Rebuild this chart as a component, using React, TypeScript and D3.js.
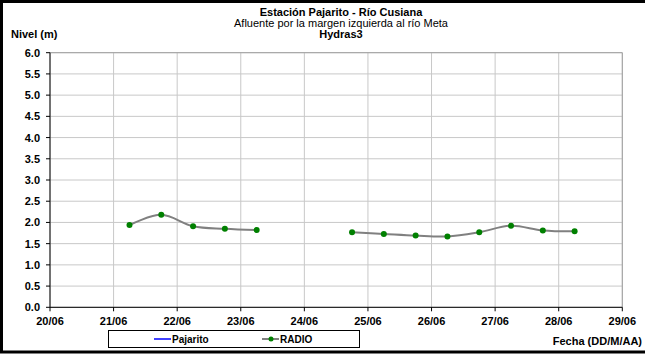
import React from "react";
import * as d3 from "d3";

const TITLE = "Estación Pajarito - Río Cusiana";
const SUBTITLE = "Afluente por la margen izquierda al río Meta";
const SUBTITLE2 = "Hydras3";
const Y_LABEL = "Nivel (m)";
const X_LABEL = "Fecha (DD/M/AA)";

const xTickDates = ["2009-06-20", "2009-06-21", "2009-06-22", "2009-06-23", "2009-06-24", "2009-06-25", "2009-06-26", "2009-06-27", "2009-06-28", "2009-06-29"];
const yTicks = [0, 0.5, 1, 1.5, 2, 2.5, 3, 3.5, 4, 4.5, 5, 5.5, 6];

const radioTimes = [
  "2009-06-21T06:00", "2009-06-21T18:00", "2009-06-22T06:00", "2009-06-22T18:00", "2009-06-23T06:00",
  "2009-06-23T18:00", "2009-06-24T06:00",
  "2009-06-24T18:00", "2009-06-25T06:00", "2009-06-25T18:00", "2009-06-26T06:00", "2009-06-26T18:00",
  "2009-06-27T06:00", "2009-06-27T18:00", "2009-06-28T06:00",
];
const radioValues: (number | null)[] = [
  1.94, 2.18, 1.91, 1.85, 1.82,
  null, null,
  1.77, 1.73, 1.69, 1.67, 1.77,
  1.92, 1.81, 1.79,
];
const pajaritoTimes: string[] = [];
const pajaritoValues: number[] = [];

const parseDay = d3.timeParse("%Y-%m-%d");
const parseTime = d3.timeParse("%Y-%m-%dT%H:%M");
const fmt = d3.timeFormat("%d/%m");

export default function App() {
  const W = 645, H = 355;
  const left = 50, right = 622.3, top = 52.7, bottom = 307.3;
  const x = d3.scaleTime()
    .domain([parseDay(xTickDates[0])!, parseDay(xTickDates[xTickDates.length - 1])!])
    .range([left, right]);
  const y = d3.scaleLinear().domain([0, 6]).range([bottom, top]);

  const radio = radioTimes.map((t, i) => ({ t: parseTime(t)!, v: radioValues[i] }));
  const pajarito = pajaritoTimes.map((t, i) => ({ t: parseTime(t)!, v: pajaritoValues[i] }));

  const line = d3.line<{ t: Date; v: number | null }>()
    .defined(d => d.v != null)
    .x(d => x(d.t))
    .y(d => y(d.v as number))
    .curve(d3.curveCatmullRom.alpha(0));

  const font = "'Liberation Sans', Arial, sans-serif";
  const grid = "#c8c8c8";

  return (
    <svg width={W} height={H} style={{ position: "absolute", left: 0, top: 0, fontFamily: font }}>
      <rect x={0} y={0} width={W} height={H} fill="#fff" />
      {/* gridlines */}
      {yTicks.map(v => (
        <line key={"h" + v} x1={left} x2={right} y1={y(v)} y2={y(v)} stroke={grid} strokeWidth={1} />
      ))}
      {xTickDates.map(d => {
        const xx = x(parseDay(d)!);
        return <line key={"v" + d} x1={xx} x2={xx} y1={top} y2={bottom} stroke={grid} strokeWidth={1} />;
      })}
      <line x1={right} x2={right} y1={top} y2={bottom} stroke="#a0a0a0" strokeWidth={1} />
      <line x1={left} x2={right} y1={top} y2={top} stroke="#a0a0a0" strokeWidth={1} />
      {/* axes */}
      <line x1={left} x2={left} y1={top} y2={bottom} stroke="#000" strokeWidth={1} />
      <line x1={left} x2={right} y1={bottom} y2={bottom} stroke="#000" strokeWidth={1} />
      {yTicks.map(v => (
        <g key={"yt" + v}>
          <line x1={left - 4} x2={left} y1={y(v)} y2={y(v)} stroke="#000" />
          <text x={40} y={y(v) + 4} textAnchor="end" fontSize={11} fontWeight="bold">{v.toFixed(1)}</text>
        </g>
      ))}
      {xTickDates.map(d => {
        const xx = x(parseDay(d)!);
        return (
          <g key={"xt" + d}>
            <line x1={xx} x2={xx} y1={bottom} y2={bottom + 4} stroke="#000" />
            <text x={xx} y={325} textAnchor="middle" fontSize={11} fontWeight="bold">{fmt(parseDay(d)!)}</text>
          </g>
        );
      })}
      {/* series */}
      {pajarito.length > 0 && <path d={line(pajarito) || ""} fill="none" stroke="#0000ff" strokeWidth={1.5} />}
      <path d={line(radio) || ""} fill="none" stroke="#808080" strokeWidth={2} />
      {radio.filter(d => d.v != null).map((d, i) => (
        <circle key={"p" + i} cx={x(d.t)} cy={y(d.v as number)} r={3} fill="#008000" />
      ))}
      {/* titles */}
      <text x={341} y={16} textAnchor="middle" fontSize={11} fontWeight="bold">{TITLE}</text>
      <text x={341} y={27} textAnchor="middle" fontSize={11}>{SUBTITLE}</text>
      <text x={341} y={38} textAnchor="middle" fontSize={11} fontWeight="bold">{SUBTITLE2}</text>
      <text x={11} y={38} fontSize={11} fontWeight="bold">{Y_LABEL}</text>
      <text x={642} y={345} textAnchor="end" fontSize={11} fontWeight="bold">{X_LABEL}</text>
      {/* legend */}
      <rect x={108.5} y={330.5} width={251} height={17} fill="#fff" stroke="#000" strokeWidth={1} />
      <line x1={154} x2={171} y1={339} y2={339} stroke="#0000ff" strokeWidth={1.5} />
      <text x={172} y={342.5} fontSize={10} fontWeight="bold">Pajarito</text>
      <line x1={262} x2={279} y1={339} y2={339} stroke="#808080" strokeWidth={2} />
      <circle cx={271} cy={339} r={2.5} fill="#008000" />
      <text x={280} y={342.5} fontSize={10} fontWeight="bold">RADIO</text>
      {/* outer border */}
      <rect x={1.5} y={1.5} width={W} height={350.5} fill="none" stroke="#000" strokeWidth={3} />
    </svg>
  );
}
